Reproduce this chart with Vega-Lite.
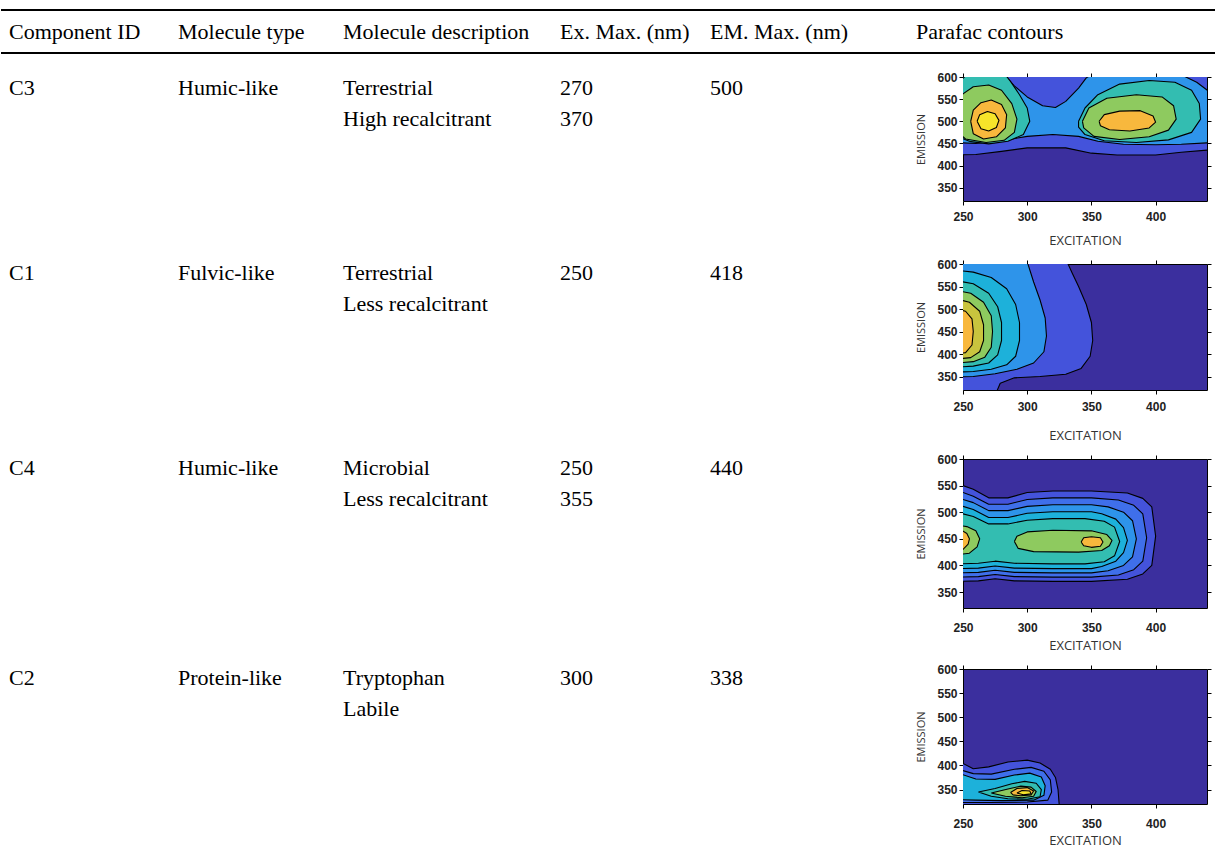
{
"$schema":"https://vega.github.io/schema/vega-lite/v6.json",
"background":"white",
"padding":0,
"spacing":12,
"config":{"view":{"stroke":null},"axis":{"domainWidth":1,"tickWidth":1,"grid":false}},
"datasets":{
"hdr":[{"col":1,"line":"header","text":"Component ID"},{"col":2,"line":"header","text":"Molecule type"},{"col":3,"line":"header","text":"Molecule description"},{"col":4,"line":"header","text":"Ex. Max. (nm)"},{"col":5,"line":"header","text":"EM. Max. (nm)"},{"col":6,"line":"header","text":"Parafac contours"}],
"rules":[{"line":"top"},{"line":"bottom"}],
"rows":[
{"row":1,"col":1,"text":"C3"},{"row":1,"col":2,"text":"Humic-like"},{"row":1,"col":3,"text":"Terrestrial\nHigh recalcitrant"},{"row":1,"col":4,"text":"270\n370"},{"row":1,"col":5,"text":"500"},
{"row":2,"col":1,"text":"C1"},{"row":2,"col":2,"text":"Fulvic-like"},{"row":2,"col":3,"text":"Terrestrial\nLess recalcitrant"},{"row":2,"col":4,"text":"250"},{"row":2,"col":5,"text":"418"},
{"row":3,"col":1,"text":"C4"},{"row":3,"col":2,"text":"Humic-like"},{"row":3,"col":3,"text":"Microbial\nLess recalcitrant"},{"row":3,"col":4,"text":"250\n355"},{"row":3,"col":5,"text":"440"},
{"row":4,"col":1,"text":"C2"},{"row":4,"col":2,"text":"Protein-like"},{"row":4,"col":3,"text":"Tryptophan\nLabile"},{"row":4,"col":4,"text":"300"},{"row":4,"col":5,"text":"338"}
],
"c3":[
{"p":"a","lv":"1","i":0,"ex":245,"em":424},{"p":"a","lv":"1","i":1,"ex":260,"em":425},{"p":"a","lv":"1","i":2,"ex":280,"em":432},{"p":"a","lv":"1","i":3,"ex":300,"em":440},{"p":"a","lv":"1","i":4,"ex":330,"em":440},{"p":"a","lv":"1","i":5,"ex":350,"em":428},{"p":"a","lv":"1","i":6,"ex":370,"em":424},{"p":"a","lv":"1","i":7,"ex":400,"em":424},{"p":"a","lv":"1","i":8,"ex":420,"em":430},{"p":"a","lv":"1","i":9,"ex":445,"em":436},{"p":"a","lv":"1","i":10,"ex":445,"em":605},{"p":"a","lv":"1","i":11,"ex":245,"em":605},{"p":"a","lv":"1","i":12,"ex":245,"em":424},
{"p":"b","lv":"3","i":0,"ex":245,"em":452},{"p":"b","lv":"3","i":1,"ex":260,"em":450},{"p":"b","lv":"3","i":2,"ex":280,"em":456},{"p":"b","lv":"3","i":3,"ex":300,"em":466},{"p":"b","lv":"3","i":4,"ex":320,"em":470},{"p":"b","lv":"3","i":5,"ex":340,"em":466},{"p":"b","lv":"3","i":6,"ex":355,"em":455},{"p":"b","lv":"3","i":7,"ex":375,"em":448},{"p":"b","lv":"3","i":8,"ex":400,"em":447},{"p":"b","lv":"3","i":9,"ex":420,"em":448},{"p":"b","lv":"3","i":10,"ex":445,"em":452},{"p":"b","lv":"3","i":11,"ex":445,"em":560},{"p":"b","lv":"3","i":12,"ex":432,"em":588},{"p":"b","lv":"3","i":13,"ex":420,"em":605},{"p":"b","lv":"3","i":14,"ex":350,"em":605},{"p":"b","lv":"3","i":15,"ex":346,"em":598},{"p":"b","lv":"3","i":16,"ex":340,"em":575},{"p":"b","lv":"3","i":17,"ex":330,"em":545},{"p":"b","lv":"3","i":18,"ex":322,"em":531},{"p":"b","lv":"3","i":19,"ex":312,"em":535},{"p":"b","lv":"3","i":20,"ex":300,"em":555},{"p":"b","lv":"3","i":21,"ex":290,"em":580},{"p":"b","lv":"3","i":22,"ex":282,"em":605},{"p":"b","lv":"3","i":23,"ex":245,"em":605},{"p":"b","lv":"3","i":24,"ex":245,"em":452},
{"p":"c","lv":"5","i":0,"ex":245,"em":466},{"p":"c","lv":"5","i":1,"ex":256,"em":454},{"p":"c","lv":"5","i":2,"ex":270,"em":449},{"p":"c","lv":"5","i":3,"ex":285,"em":455},{"p":"c","lv":"5","i":4,"ex":297,"em":470},{"p":"c","lv":"5","i":5,"ex":302,"em":500},{"p":"c","lv":"5","i":6,"ex":300,"em":530},{"p":"c","lv":"5","i":7,"ex":294,"em":560},{"p":"c","lv":"5","i":8,"ex":287,"em":590},{"p":"c","lv":"5","i":9,"ex":283,"em":605},{"p":"c","lv":"5","i":10,"ex":253,"em":605},{"p":"c","lv":"5","i":11,"ex":248,"em":592},{"p":"c","lv":"5","i":12,"ex":245,"em":585},{"p":"c","lv":"5","i":13,"ex":245,"em":466},
{"p":"d","lv":"5","i":0,"ex":340,"em":500},{"p":"d","lv":"5","i":1,"ex":345,"em":530},{"p":"d","lv":"5","i":2,"ex":355,"em":560},{"p":"d","lv":"5","i":3,"ex":372,"em":584},{"p":"d","lv":"5","i":4,"ex":395,"em":592},{"p":"d","lv":"5","i":5,"ex":415,"em":588},{"p":"d","lv":"5","i":6,"ex":428,"em":570},{"p":"d","lv":"5","i":7,"ex":434,"em":540},{"p":"d","lv":"5","i":8,"ex":435,"em":505},{"p":"d","lv":"5","i":9,"ex":428,"em":475},{"p":"d","lv":"5","i":10,"ex":410,"em":458},{"p":"d","lv":"5","i":11,"ex":385,"em":452},{"p":"d","lv":"5","i":12,"ex":360,"em":456},{"p":"d","lv":"5","i":13,"ex":345,"em":470},{"p":"d","lv":"5","i":14,"ex":340,"em":487},{"p":"d","lv":"5","i":15,"ex":340,"em":500},
{"p":"e","lv":"6","i":0,"ex":245,"em":478},{"p":"e","lv":"6","i":1,"ex":252,"em":460},{"p":"e","lv":"6","i":2,"ex":268,"em":452},{"p":"e","lv":"6","i":3,"ex":282,"em":457},{"p":"e","lv":"6","i":4,"ex":290,"em":475},{"p":"e","lv":"6","i":5,"ex":292,"em":505},{"p":"e","lv":"6","i":6,"ex":288,"em":540},{"p":"e","lv":"6","i":7,"ex":280,"em":570},{"p":"e","lv":"6","i":8,"ex":270,"em":582},{"p":"e","lv":"6","i":9,"ex":258,"em":578},{"p":"e","lv":"6","i":10,"ex":250,"em":562},{"p":"e","lv":"6","i":11,"ex":245,"em":545},{"p":"e","lv":"6","i":12,"ex":245,"em":478},
{"p":"f","lv":"6","i":0,"ex":343,"em":500},{"p":"f","lv":"6","i":1,"ex":348,"em":530},{"p":"f","lv":"6","i":2,"ex":362,"em":552},{"p":"f","lv":"6","i":3,"ex":385,"em":560},{"p":"f","lv":"6","i":4,"ex":405,"em":555},{"p":"f","lv":"6","i":5,"ex":414,"em":535},{"p":"f","lv":"6","i":6,"ex":416,"em":505},{"p":"f","lv":"6","i":7,"ex":410,"em":480},{"p":"f","lv":"6","i":8,"ex":395,"em":465},{"p":"f","lv":"6","i":9,"ex":372,"em":459},{"p":"f","lv":"6","i":10,"ex":352,"em":466},{"p":"f","lv":"6","i":11,"ex":344,"em":485},{"p":"f","lv":"6","i":12,"ex":343,"em":500},
{"p":"g","lv":"8","i":0,"ex":256,"em":500},{"p":"g","lv":"8","i":1,"ex":258,"em":525},{"p":"g","lv":"8","i":2,"ex":264,"em":542},{"p":"g","lv":"8","i":3,"ex":272,"em":548},{"p":"g","lv":"8","i":4,"ex":280,"em":538},{"p":"g","lv":"8","i":5,"ex":284,"em":515},{"p":"g","lv":"8","i":6,"ex":283,"em":485},{"p":"g","lv":"8","i":7,"ex":276,"em":465},{"p":"g","lv":"8","i":8,"ex":266,"em":460},{"p":"g","lv":"8","i":9,"ex":258,"em":472},{"p":"g","lv":"8","i":10,"ex":256,"em":500},
{"p":"h","lv":"8","i":0,"ex":356,"em":500},{"p":"h","lv":"8","i":1,"ex":360,"em":515},{"p":"h","lv":"8","i":2,"ex":372,"em":523},{"p":"h","lv":"8","i":3,"ex":388,"em":524},{"p":"h","lv":"8","i":4,"ex":398,"em":512},{"p":"h","lv":"8","i":5,"ex":400,"em":498},{"p":"h","lv":"8","i":6,"ex":395,"em":485},{"p":"h","lv":"8","i":7,"ex":380,"em":478},{"p":"h","lv":"8","i":8,"ex":364,"em":481},{"p":"h","lv":"8","i":9,"ex":357,"em":490},{"p":"h","lv":"8","i":10,"ex":356,"em":500},
{"p":"k","lv":"9","i":0,"ex":261,"em":500},{"p":"k","lv":"9","i":1,"ex":263,"em":515},{"p":"k","lv":"9","i":2,"ex":269,"em":522},{"p":"k","lv":"9","i":3,"ex":275,"em":517},{"p":"k","lv":"9","i":4,"ex":278,"em":502},{"p":"k","lv":"9","i":5,"ex":276,"em":486},{"p":"k","lv":"9","i":6,"ex":270,"em":478},{"p":"k","lv":"9","i":7,"ex":264,"em":483},{"p":"k","lv":"9","i":8,"ex":261,"em":500}
],
"c1":[
{"p":"a","lv":"1","i":0,"ex":245,"em":315},{"p":"a","lv":"1","i":1,"ex":276,"em":315},{"p":"a","lv":"1","i":2,"ex":279,"em":335},{"p":"a","lv":"1","i":3,"ex":290,"em":347},{"p":"a","lv":"1","i":4,"ex":310,"em":350},{"p":"a","lv":"1","i":5,"ex":330,"em":355},{"p":"a","lv":"1","i":6,"ex":342,"em":368},{"p":"a","lv":"1","i":7,"ex":349,"em":395},{"p":"a","lv":"1","i":8,"ex":351,"em":430},{"p":"a","lv":"1","i":9,"ex":350,"em":470},{"p":"a","lv":"1","i":10,"ex":346,"em":510},{"p":"a","lv":"1","i":11,"ex":340,"em":550},{"p":"a","lv":"1","i":12,"ex":335,"em":580},{"p":"a","lv":"1","i":13,"ex":331,"em":605},{"p":"a","lv":"1","i":14,"ex":245,"em":605},{"p":"a","lv":"1","i":15,"ex":245,"em":315},
{"p":"b","lv":"3","i":0,"ex":245,"em":349},{"p":"b","lv":"3","i":1,"ex":258,"em":350},{"p":"b","lv":"3","i":2,"ex":275,"em":356},{"p":"b","lv":"3","i":3,"ex":292,"em":366},{"p":"b","lv":"3","i":4,"ex":305,"em":380},{"p":"b","lv":"3","i":5,"ex":313,"em":405},{"p":"b","lv":"3","i":6,"ex":315,"em":440},{"p":"b","lv":"3","i":7,"ex":314,"em":480},{"p":"b","lv":"3","i":8,"ex":310,"em":520},{"p":"b","lv":"3","i":9,"ex":305,"em":560},{"p":"b","lv":"3","i":10,"ex":300,"em":605},{"p":"b","lv":"3","i":11,"ex":245,"em":605},{"p":"b","lv":"3","i":12,"ex":245,"em":349},
{"p":"c","lv":"4","i":0,"ex":245,"em":360},{"p":"c","lv":"4","i":1,"ex":258,"em":361},{"p":"c","lv":"4","i":2,"ex":272,"em":366},{"p":"c","lv":"4","i":3,"ex":284,"em":376},{"p":"c","lv":"4","i":4,"ex":291,"em":395},{"p":"c","lv":"4","i":5,"ex":294,"em":430},{"p":"c","lv":"4","i":6,"ex":294,"em":470},{"p":"c","lv":"4","i":7,"ex":291,"em":510},{"p":"c","lv":"4","i":8,"ex":284,"em":545},{"p":"c","lv":"4","i":9,"ex":272,"em":570},{"p":"c","lv":"4","i":10,"ex":258,"em":582},{"p":"c","lv":"4","i":11,"ex":245,"em":586},{"p":"c","lv":"4","i":12,"ex":245,"em":360},
{"p":"d","lv":"5","i":0,"ex":245,"em":371},{"p":"d","lv":"5","i":1,"ex":258,"em":373},{"p":"d","lv":"5","i":2,"ex":270,"em":380},{"p":"d","lv":"5","i":3,"ex":277,"em":398},{"p":"d","lv":"5","i":4,"ex":280,"em":430},{"p":"d","lv":"5","i":5,"ex":280,"em":470},{"p":"d","lv":"5","i":6,"ex":277,"em":505},{"p":"d","lv":"5","i":7,"ex":270,"em":535},{"p":"d","lv":"5","i":8,"ex":258,"em":556},{"p":"d","lv":"5","i":9,"ex":245,"em":563},{"p":"d","lv":"5","i":10,"ex":245,"em":371},
{"p":"e","lv":"6","i":0,"ex":245,"em":380},{"p":"e","lv":"6","i":1,"ex":258,"em":383},{"p":"e","lv":"6","i":2,"ex":267,"em":393},{"p":"e","lv":"6","i":3,"ex":272,"em":415},{"p":"e","lv":"6","i":4,"ex":273,"em":450},{"p":"e","lv":"6","i":5,"ex":272,"em":485},{"p":"e","lv":"6","i":6,"ex":266,"em":515},{"p":"e","lv":"6","i":7,"ex":256,"em":535},{"p":"e","lv":"6","i":8,"ex":245,"em":541},{"p":"e","lv":"6","i":9,"ex":245,"em":380},
{"p":"f","lv":"7","i":0,"ex":245,"em":389},{"p":"f","lv":"7","i":1,"ex":256,"em":392},{"p":"f","lv":"7","i":2,"ex":263,"em":405},{"p":"f","lv":"7","i":3,"ex":266,"em":430},{"p":"f","lv":"7","i":4,"ex":266,"em":465},{"p":"f","lv":"7","i":5,"ex":263,"em":495},{"p":"f","lv":"7","i":6,"ex":255,"em":515},{"p":"f","lv":"7","i":7,"ex":245,"em":522},{"p":"f","lv":"7","i":8,"ex":245,"em":389},
{"p":"g","lv":"8","i":0,"ex":245,"em":400},{"p":"g","lv":"8","i":1,"ex":252,"em":403},{"p":"g","lv":"8","i":2,"ex":257,"em":420},{"p":"g","lv":"8","i":3,"ex":258,"em":450},{"p":"g","lv":"8","i":4,"ex":257,"em":478},{"p":"g","lv":"8","i":5,"ex":252,"em":495},{"p":"g","lv":"8","i":6,"ex":245,"em":500},{"p":"g","lv":"8","i":7,"ex":245,"em":400}
],
"c4":[
{"p":"a","lv":"1","i":0,"ex":245,"em":370},{"p":"a","lv":"1","i":1,"ex":262,"em":371},{"p":"a","lv":"1","i":2,"ex":275,"em":375},{"p":"a","lv":"1","i":3,"ex":290,"em":371},{"p":"a","lv":"1","i":4,"ex":320,"em":370},{"p":"a","lv":"1","i":5,"ex":350,"em":370},{"p":"a","lv":"1","i":6,"ex":378,"em":374},{"p":"a","lv":"1","i":7,"ex":390,"em":384},{"p":"a","lv":"1","i":8,"ex":397,"em":400},{"p":"a","lv":"1","i":9,"ex":400,"em":455},{"p":"a","lv":"1","i":10,"ex":397,"em":510},{"p":"a","lv":"1","i":11,"ex":390,"em":526},{"p":"a","lv":"1","i":12,"ex":378,"em":536},{"p":"a","lv":"1","i":13,"ex":350,"em":540},{"p":"a","lv":"1","i":14,"ex":320,"em":540},{"p":"a","lv":"1","i":15,"ex":300,"em":537},{"p":"a","lv":"1","i":16,"ex":285,"em":527},{"p":"a","lv":"1","i":17,"ex":270,"em":527},{"p":"a","lv":"1","i":18,"ex":258,"em":543},{"p":"a","lv":"1","i":19,"ex":250,"em":550},{"p":"a","lv":"1","i":20,"ex":245,"em":553},{"p":"a","lv":"1","i":21,"ex":245,"em":370},
{"p":"b","lv":"2","i":0,"ex":245,"em":378},{"p":"b","lv":"2","i":1,"ex":262,"em":379},{"p":"b","lv":"2","i":2,"ex":275,"em":383},{"p":"b","lv":"2","i":3,"ex":290,"em":379},{"p":"b","lv":"2","i":4,"ex":320,"em":378},{"p":"b","lv":"2","i":5,"ex":350,"em":378},{"p":"b","lv":"2","i":6,"ex":371,"em":382},{"p":"b","lv":"2","i":7,"ex":383,"em":392},{"p":"b","lv":"2","i":8,"ex":390,"em":408},{"p":"b","lv":"2","i":9,"ex":393,"em":452},{"p":"b","lv":"2","i":10,"ex":390,"em":497},{"p":"b","lv":"2","i":11,"ex":383,"em":513},{"p":"b","lv":"2","i":12,"ex":371,"em":523},{"p":"b","lv":"2","i":13,"ex":350,"em":527},{"p":"b","lv":"2","i":14,"ex":320,"em":527},{"p":"b","lv":"2","i":15,"ex":300,"em":524},{"p":"b","lv":"2","i":16,"ex":285,"em":515},{"p":"b","lv":"2","i":17,"ex":270,"em":515},{"p":"b","lv":"2","i":18,"ex":258,"em":530},{"p":"b","lv":"2","i":19,"ex":250,"em":537},{"p":"b","lv":"2","i":20,"ex":245,"em":540},{"p":"b","lv":"2","i":21,"ex":245,"em":378},
{"p":"c","lv":"3","i":0,"ex":245,"em":386},{"p":"c","lv":"3","i":1,"ex":262,"em":387},{"p":"c","lv":"3","i":2,"ex":275,"em":391},{"p":"c","lv":"3","i":3,"ex":290,"em":387},{"p":"c","lv":"3","i":4,"ex":320,"em":386},{"p":"c","lv":"3","i":5,"ex":350,"em":386},{"p":"c","lv":"3","i":6,"ex":363,"em":390},{"p":"c","lv":"3","i":7,"ex":375,"em":400},{"p":"c","lv":"3","i":8,"ex":382,"em":416},{"p":"c","lv":"3","i":9,"ex":385,"em":450},{"p":"c","lv":"3","i":10,"ex":382,"em":484},{"p":"c","lv":"3","i":11,"ex":375,"em":500},{"p":"c","lv":"3","i":12,"ex":363,"em":510},{"p":"c","lv":"3","i":13,"ex":350,"em":514},{"p":"c","lv":"3","i":14,"ex":320,"em":514},{"p":"c","lv":"3","i":15,"ex":300,"em":511},{"p":"c","lv":"3","i":16,"ex":285,"em":503},{"p":"c","lv":"3","i":17,"ex":270,"em":503},{"p":"c","lv":"3","i":18,"ex":258,"em":518},{"p":"c","lv":"3","i":19,"ex":250,"em":524},{"p":"c","lv":"3","i":20,"ex":245,"em":527},{"p":"c","lv":"3","i":21,"ex":245,"em":386},
{"p":"d","lv":"4","i":0,"ex":245,"em":394},{"p":"d","lv":"4","i":1,"ex":262,"em":395},{"p":"d","lv":"4","i":2,"ex":275,"em":399},{"p":"d","lv":"4","i":3,"ex":290,"em":395},{"p":"d","lv":"4","i":4,"ex":320,"em":394},{"p":"d","lv":"4","i":5,"ex":350,"em":394},{"p":"d","lv":"4","i":6,"ex":358,"em":398},{"p":"d","lv":"4","i":7,"ex":369,"em":408},{"p":"d","lv":"4","i":8,"ex":375,"em":424},{"p":"d","lv":"4","i":9,"ex":378,"em":447},{"p":"d","lv":"4","i":10,"ex":375,"em":471},{"p":"d","lv":"4","i":11,"ex":369,"em":487},{"p":"d","lv":"4","i":12,"ex":358,"em":497},{"p":"d","lv":"4","i":13,"ex":350,"em":501},{"p":"d","lv":"4","i":14,"ex":320,"em":501},{"p":"d","lv":"4","i":15,"ex":300,"em":498},{"p":"d","lv":"4","i":16,"ex":285,"em":490},{"p":"d","lv":"4","i":17,"ex":270,"em":490},{"p":"d","lv":"4","i":18,"ex":258,"em":505},{"p":"d","lv":"4","i":19,"ex":250,"em":511},{"p":"d","lv":"4","i":20,"ex":245,"em":514},{"p":"d","lv":"4","i":21,"ex":245,"em":394},
{"p":"e","lv":"5","i":0,"ex":245,"em":403},{"p":"e","lv":"5","i":1,"ex":262,"em":404},{"p":"e","lv":"5","i":2,"ex":275,"em":408},{"p":"e","lv":"5","i":3,"ex":290,"em":404},{"p":"e","lv":"5","i":4,"ex":320,"em":403},{"p":"e","lv":"5","i":5,"ex":345,"em":403},{"p":"e","lv":"5","i":6,"ex":360,"em":407},{"p":"e","lv":"5","i":7,"ex":368,"em":418},{"p":"e","lv":"5","i":8,"ex":372,"em":445},{"p":"e","lv":"5","i":9,"ex":368,"em":472},{"p":"e","lv":"5","i":10,"ex":360,"em":483},{"p":"e","lv":"5","i":11,"ex":345,"em":488},{"p":"e","lv":"5","i":12,"ex":320,"em":488},{"p":"e","lv":"5","i":13,"ex":300,"em":485},{"p":"e","lv":"5","i":14,"ex":285,"em":478},{"p":"e","lv":"5","i":15,"ex":270,"em":478},{"p":"e","lv":"5","i":16,"ex":258,"em":492},{"p":"e","lv":"5","i":17,"ex":250,"em":497},{"p":"e","lv":"5","i":18,"ex":245,"em":500},{"p":"e","lv":"5","i":19,"ex":245,"em":403},
{"p":"f","lv":"6","i":0,"ex":290,"em":445},{"p":"f","lv":"6","i":1,"ex":293,"em":432},{"p":"f","lv":"6","i":2,"ex":305,"em":426},{"p":"f","lv":"6","i":3,"ex":340,"em":425},{"p":"f","lv":"6","i":4,"ex":358,"em":428},{"p":"f","lv":"6","i":5,"ex":364,"em":437},{"p":"f","lv":"6","i":6,"ex":366,"em":447},{"p":"f","lv":"6","i":7,"ex":362,"em":458},{"p":"f","lv":"6","i":8,"ex":350,"em":465},{"p":"f","lv":"6","i":9,"ex":320,"em":466},{"p":"f","lv":"6","i":10,"ex":300,"em":463},{"p":"f","lv":"6","i":11,"ex":292,"em":455},{"p":"f","lv":"6","i":12,"ex":290,"em":445},
{"p":"g","lv":"6","i":0,"ex":245,"em":420},{"p":"g","lv":"6","i":1,"ex":255,"em":423},{"p":"g","lv":"6","i":2,"ex":261,"em":435},{"p":"g","lv":"6","i":3,"ex":263,"em":450},{"p":"g","lv":"6","i":4,"ex":260,"em":465},{"p":"g","lv":"6","i":5,"ex":253,"em":473},{"p":"g","lv":"6","i":6,"ex":245,"em":476},{"p":"g","lv":"6","i":7,"ex":245,"em":420},
{"p":"h","lv":"8","i":0,"ex":342,"em":444},{"p":"h","lv":"8","i":1,"ex":344,"em":437},{"p":"h","lv":"8","i":2,"ex":350,"em":434},{"p":"h","lv":"8","i":3,"ex":357,"em":436},{"p":"h","lv":"8","i":4,"ex":359,"em":444},{"p":"h","lv":"8","i":5,"ex":357,"em":452},{"p":"h","lv":"8","i":6,"ex":350,"em":454},{"p":"h","lv":"8","i":7,"ex":344,"em":452},{"p":"h","lv":"8","i":8,"ex":342,"em":444},
{"p":"k","lv":"8","i":0,"ex":245,"em":428},{"p":"k","lv":"8","i":1,"ex":250,"em":430},{"p":"k","lv":"8","i":2,"ex":254,"em":440},{"p":"k","lv":"8","i":3,"ex":255,"em":450},{"p":"k","lv":"8","i":4,"ex":253,"em":460},{"p":"k","lv":"8","i":5,"ex":249,"em":466},{"p":"k","lv":"8","i":6,"ex":245,"em":467},{"p":"k","lv":"8","i":7,"ex":245,"em":428}
],
"c2":[
{"p":"a","lv":"1","i":0,"ex":245,"em":406},{"p":"a","lv":"1","i":1,"ex":250,"em":404},{"p":"a","lv":"1","i":2,"ex":258,"em":393},{"p":"a","lv":"1","i":3,"ex":270,"em":397},{"p":"a","lv":"1","i":4,"ex":285,"em":407},{"p":"a","lv":"1","i":5,"ex":300,"em":411},{"p":"a","lv":"1","i":6,"ex":310,"em":405},{"p":"a","lv":"1","i":7,"ex":318,"em":392},{"p":"a","lv":"1","i":8,"ex":322,"em":375},{"p":"a","lv":"1","i":9,"ex":324,"em":350},{"p":"a","lv":"1","i":10,"ex":325,"em":315},{"p":"a","lv":"1","i":11,"ex":245,"em":315},{"p":"a","lv":"1","i":12,"ex":245,"em":406},
{"p":"b","lv":"2","i":0,"ex":245,"em":393},{"p":"b","lv":"2","i":1,"ex":258,"em":383},{"p":"b","lv":"2","i":2,"ex":272,"em":382},{"p":"b","lv":"2","i":3,"ex":290,"em":392},{"p":"b","lv":"2","i":4,"ex":303,"em":396},{"p":"b","lv":"2","i":5,"ex":313,"em":388},{"p":"b","lv":"2","i":6,"ex":318,"em":370},{"p":"b","lv":"2","i":7,"ex":319,"em":345},{"p":"b","lv":"2","i":8,"ex":316,"em":328},{"p":"b","lv":"2","i":9,"ex":300,"em":324},{"p":"b","lv":"2","i":10,"ex":270,"em":323},{"p":"b","lv":"2","i":11,"ex":245,"em":323},{"p":"b","lv":"2","i":12,"ex":245,"em":393},
{"p":"c","lv":"4","i":0,"ex":245,"em":385},{"p":"c","lv":"4","i":1,"ex":260,"em":372},{"p":"c","lv":"4","i":2,"ex":275,"em":371},{"p":"c","lv":"4","i":3,"ex":290,"em":380},{"p":"c","lv":"4","i":4,"ex":302,"em":384},{"p":"c","lv":"4","i":5,"ex":311,"em":376},{"p":"c","lv":"4","i":6,"ex":314,"em":358},{"p":"c","lv":"4","i":7,"ex":313,"em":338},{"p":"c","lv":"4","i":8,"ex":305,"em":328},{"p":"c","lv":"4","i":9,"ex":280,"em":327},{"p":"c","lv":"4","i":10,"ex":260,"em":328},{"p":"c","lv":"4","i":11,"ex":245,"em":329},{"p":"c","lv":"4","i":12,"ex":245,"em":385},
{"p":"d","lv":"5","i":0,"ex":262,"em":345},{"p":"d","lv":"5","i":1,"ex":275,"em":352},{"p":"d","lv":"5","i":2,"ex":288,"em":362},{"p":"d","lv":"5","i":3,"ex":298,"em":367},{"p":"d","lv":"5","i":4,"ex":307,"em":363},{"p":"d","lv":"5","i":5,"ex":311,"em":350},{"p":"d","lv":"5","i":6,"ex":310,"em":335},{"p":"d","lv":"5","i":7,"ex":300,"em":330},{"p":"d","lv":"5","i":8,"ex":285,"em":331},{"p":"d","lv":"5","i":9,"ex":272,"em":336},{"p":"d","lv":"5","i":10,"ex":262,"em":345},
{"p":"e","lv":"6","i":0,"ex":272,"em":343},{"p":"e","lv":"6","i":1,"ex":285,"em":351},{"p":"e","lv":"6","i":2,"ex":295,"em":357},{"p":"e","lv":"6","i":3,"ex":303,"em":355},{"p":"e","lv":"6","i":4,"ex":307,"em":346},{"p":"e","lv":"6","i":5,"ex":305,"em":336},{"p":"e","lv":"6","i":6,"ex":296,"em":333},{"p":"e","lv":"6","i":7,"ex":283,"em":336},{"p":"e","lv":"6","i":8,"ex":272,"em":343},
{"p":"f","lv":"8","i":0,"ex":287,"em":344},{"p":"f","lv":"8","i":1,"ex":292,"em":352},{"p":"f","lv":"8","i":2,"ex":300,"em":354},{"p":"f","lv":"8","i":3,"ex":305,"em":347},{"p":"f","lv":"8","i":4,"ex":303,"em":339},{"p":"f","lv":"8","i":5,"ex":295,"em":337},{"p":"f","lv":"8","i":6,"ex":289,"em":339},{"p":"f","lv":"8","i":7,"ex":287,"em":344},
{"p":"g","lv":"9","i":0,"ex":292,"em":343},{"p":"g","lv":"9","i":1,"ex":296,"em":348},{"p":"g","lv":"9","i":2,"ex":302,"em":347},{"p":"g","lv":"9","i":3,"ex":303,"em":341},{"p":"g","lv":"9","i":4,"ex":297,"em":339},{"p":"g","lv":"9","i":5,"ex":292,"em":343}
]
},
"vconcat":[
{
"width":1215,"height":59,
"layer":[
{"data":{"name":"rules"},"mark":{"type":"rule","strokeWidth":2,"color":"#000000"},
"encoding":{"y":{"field":"line","type":"nominal","scale":{"type":"point","domain":["top","header","bottom"],"range":[10,53],"padding":0},"axis":null}}},
{"data":{"name":"hdr"},"mark":{"type":"text","align":"left","baseline":"middle","font":"Liberation Serif","fontSize":22,"color":"#000000"},
"encoding":{"x":{"field":"col","type":"quantitative","scale":{"domain":[1,2,3,4,5,6],"range":[8,177,342,559,709,915],"zero":false,"nice":false},"axis":null},
"y":{"field":"line","type":"nominal","scale":{"type":"point","domain":["top","header","bottom"],"range":[10,53],"padding":0},"axis":null},
"text":{"field":"text"}}}
]
},
{
"spacing":0,
"hconcat":[
{
"width":914,"height":700,
"data":{"name":"rows"},
"mark":{"type":"text","align":"left","baseline":"top","font":"Liberation Serif","fontSize":22,"lineHeight":31,"lineBreak":"\n","color":"#000000"},
"encoding":{"x":{"field":"col","type":"quantitative","scale":{"domain":[1,2,3,4,5],"range":[8,177,342,559,709],"zero":false,"nice":false},"axis":null},
"y":{"field":"row","type":"quantitative","scale":{"domain":[1,2,3,4],"range":[1.4,186.4,381.4,591.4],"zero":false,"nice":false},"axis":null},
"text":{"field":"text"}}
},
{
"spacing":11,
"vconcat":[
{
"width":244,"height":124,"view":{"fill":"#3B2F9E","stroke":null},
"layer":[
{"data":{"name":"c3"},"mark":{"type":"line","filled":true,"stroke":"#000000","strokeWidth":1.1,"clip":true,"strokeJoin":"round"},
"encoding":{
"x":{"field":"ex","type":"quantitative","scale":{"domain":[250,440],"nice":false,"zero":false},"axis":{"orient":"bottom","values":[250,300,350,400],"title":"EXCITATION","titleFont":"Open Sans","titleFontSize":13,"titleFontWeight":"normal","titleColor":"#333333","titlePadding":12,"labelFont":"Liberation Sans","labelFontSize":12,"labelFontWeight":"bold","labelColor":"#222222","labelPadding":6,"labelFlush":false,"tickColor":"#000000","tickSize":4,"domainColor":"#000000"}},
"y":{"field":"em","type":"quantitative","scale":{"domain":[320,600],"nice":false,"zero":false},"axis":{"orient":"left","values":[350,400,450,500,550,600],"title":"EMISSION","titleFont":"Open Sans","titleFontSize":11,"titleFontWeight":"normal","titleColor":"#333333","titlePadding":10,"labelFont":"Liberation Sans","labelFontSize":12,"labelFontWeight":"bold","labelColor":"#222222","labelPadding":2,"labelFlush":false,"tickColor":"#000000","tickSize":4,"domainColor":"#000000"}},
"detail":{"field":"p"},
"fill":{"field":"lv","type":"nominal","scale":{"domain":["1","2","3","4","5","6","7","8","9"],"range":["#4453DB","#3F6FEA","#2E94EA","#1DB1DA","#33BDB1","#8ECA5F","#C9C43E","#F8B83D","#F7E52A"]},"legend":null},
"order":{"field":"i","type":"quantitative"}}},
{"data":{"values":[{"ex":250,"em":600}]},"mark":{"type":"point","opacity":0},
"encoding":{
"x":{"field":"ex","type":"quantitative","scale":{"domain":[250,440],"nice":false,"zero":false},"axis":{"orient":"top","values":[250,300,350,400],"labels":false,"title":null,"tickColor":"#000000","tickSize":4,"domainColor":"#000000"}},
"y":{"field":"em","type":"quantitative","scale":{"domain":[320,600],"nice":false,"zero":false},"axis":{"orient":"right","values":[350,400,450,500,550,600],"labels":false,"title":null,"tickColor":"#000000","tickSize":4,"domainColor":"#000000"}}}}
],
"resolve":{"axis":{"x":"independent","y":"independent"}}
},
{
"width":244,"height":126,"view":{"fill":"#3B2F9E","stroke":null},
"layer":[
{"data":{"name":"c1"},"mark":{"type":"line","filled":true,"stroke":"#000000","strokeWidth":1.1,"clip":true,"strokeJoin":"round"},
"encoding":{
"x":{"field":"ex","type":"quantitative","scale":{"domain":[250,440],"nice":false,"zero":false},"axis":{"orient":"bottom","values":[250,300,350,400],"title":"EXCITATION","titleFont":"Open Sans","titleFontSize":13,"titleFontWeight":"normal","titleColor":"#333333","titlePadding":17,"labelFont":"Liberation Sans","labelFontSize":12,"labelFontWeight":"bold","labelColor":"#222222","labelPadding":7,"labelFlush":false,"tickColor":"#000000","tickSize":4,"domainColor":"#000000"}},
"y":{"field":"em","type":"quantitative","scale":{"domain":[320,600],"nice":false,"zero":false},"axis":{"orient":"left","values":[350,400,450,500,550,600],"title":"EMISSION","titleFont":"Open Sans","titleFontSize":11,"titleFontWeight":"normal","titleColor":"#333333","titlePadding":10,"labelFont":"Liberation Sans","labelFontSize":12,"labelFontWeight":"bold","labelColor":"#222222","labelPadding":2,"labelFlush":false,"tickColor":"#000000","tickSize":4,"domainColor":"#000000"}},
"detail":{"field":"p"},
"fill":{"field":"lv","type":"nominal","scale":{"domain":["1","2","3","4","5","6","7","8","9"],"range":["#4453DB","#3F6FEA","#2E94EA","#1DB1DA","#33BDB1","#8ECA5F","#C9C43E","#F8B83D","#F7E52A"]},"legend":null},
"order":{"field":"i","type":"quantitative"}}},
{"data":{"values":[{"ex":250,"em":600}]},"mark":{"type":"point","opacity":0},
"encoding":{
"x":{"field":"ex","type":"quantitative","scale":{"domain":[250,440],"nice":false,"zero":false},"axis":{"orient":"top","values":[250,300,350,400],"labels":false,"title":null,"tickColor":"#000000","tickSize":4,"domainColor":"#000000"}},
"y":{"field":"em","type":"quantitative","scale":{"domain":[320,600],"nice":false,"zero":false},"axis":{"orient":"right","values":[350,400,450,500,550,600],"labels":false,"title":null,"tickColor":"#000000","tickSize":4,"domainColor":"#000000"}}}}
],
"resolve":{"axis":{"x":"independent","y":"independent"}}
},
{
"width":244,"height":149,"view":{"fill":"#3B2F9E","stroke":null},
"layer":[
{"data":{"name":"c4"},"mark":{"type":"line","filled":true,"stroke":"#000000","strokeWidth":1.1,"clip":true,"strokeJoin":"round"},
"encoding":{
"x":{"field":"ex","type":"quantitative","scale":{"domain":[250,440],"nice":false,"zero":false},"axis":{"orient":"bottom","values":[250,300,350,400],"title":"EXCITATION","titleFont":"Open Sans","titleFontSize":13,"titleFontWeight":"normal","titleColor":"#333333","titlePadding":6,"labelFont":"Liberation Sans","labelFontSize":12,"labelFontWeight":"bold","labelColor":"#222222","labelPadding":10,"labelFlush":false,"tickColor":"#000000","tickSize":4,"domainColor":"#000000"}},
"y":{"field":"em","type":"quantitative","scale":{"domain":[320,600],"nice":false,"zero":false},"axis":{"orient":"left","values":[350,400,450,500,550,600],"title":"EMISSION","titleFont":"Open Sans","titleFontSize":11,"titleFontWeight":"normal","titleColor":"#333333","titlePadding":10,"labelFont":"Liberation Sans","labelFontSize":12,"labelFontWeight":"bold","labelColor":"#222222","labelPadding":2,"labelFlush":false,"tickColor":"#000000","tickSize":4,"domainColor":"#000000"}},
"detail":{"field":"p"},
"fill":{"field":"lv","type":"nominal","scale":{"domain":["1","2","3","4","5","6","7","8","9"],"range":["#4453DB","#3F6FEA","#2E94EA","#1DB1DA","#33BDB1","#8ECA5F","#C9C43E","#F8B83D","#F7E52A"]},"legend":null},
"order":{"field":"i","type":"quantitative"}}},
{"data":{"values":[{"ex":250,"em":600}]},"mark":{"type":"point","opacity":0},
"encoding":{
"x":{"field":"ex","type":"quantitative","scale":{"domain":[250,440],"nice":false,"zero":false},"axis":{"orient":"top","values":[250,300,350,400],"labels":false,"title":null,"tickColor":"#000000","tickSize":4,"domainColor":"#000000"}},
"y":{"field":"em","type":"quantitative","scale":{"domain":[320,600],"nice":false,"zero":false},"axis":{"orient":"right","values":[350,400,450,500,550,600],"labels":false,"title":null,"tickColor":"#000000","tickSize":4,"domainColor":"#000000"}}}}
],
"resolve":{"axis":{"x":"independent","y":"independent"}}
},
{
"width":244,"height":135,"view":{"fill":"#3B2F9E","stroke":null},
"layer":[
{"data":{"name":"c2"},"mark":{"type":"line","filled":true,"stroke":"#000000","strokeWidth":1.1,"clip":true,"strokeJoin":"round"},
"encoding":{
"x":{"field":"ex","type":"quantitative","scale":{"domain":[250,440],"nice":false,"zero":false},"axis":{"orient":"bottom","values":[250,300,350,400],"title":"EXCITATION","titleFont":"Open Sans","titleFontSize":13,"titleFontWeight":"normal","titleColor":"#333333","titlePadding":5,"labelFont":"Liberation Sans","labelFontSize":12,"labelFontWeight":"bold","labelColor":"#222222","labelPadding":10,"labelFlush":false,"tickColor":"#000000","tickSize":4,"domainColor":"#000000"}},
"y":{"field":"em","type":"quantitative","scale":{"domain":[320,600],"nice":false,"zero":false},"axis":{"orient":"left","values":[350,400,450,500,550,600],"title":"EMISSION","titleFont":"Open Sans","titleFontSize":11,"titleFontWeight":"normal","titleColor":"#333333","titlePadding":10,"labelFont":"Liberation Sans","labelFontSize":12,"labelFontWeight":"bold","labelColor":"#222222","labelPadding":2,"labelFlush":false,"tickColor":"#000000","tickSize":4,"domainColor":"#000000"}},
"detail":{"field":"p"},
"fill":{"field":"lv","type":"nominal","scale":{"domain":["1","2","3","4","5","6","7","8","9"],"range":["#4453DB","#3F6FEA","#2E94EA","#1DB1DA","#33BDB1","#8ECA5F","#C9C43E","#F8B83D","#F7E52A"]},"legend":null},
"order":{"field":"i","type":"quantitative"}}},
{"data":{"values":[{"ex":250,"em":600}]},"mark":{"type":"point","opacity":0},
"encoding":{
"x":{"field":"ex","type":"quantitative","scale":{"domain":[250,440],"nice":false,"zero":false},"axis":{"orient":"top","values":[250,300,350,400],"labels":false,"title":null,"tickColor":"#000000","tickSize":4,"domainColor":"#000000"}},
"y":{"field":"em","type":"quantitative","scale":{"domain":[320,600],"nice":false,"zero":false},"axis":{"orient":"right","values":[350,400,450,500,550,600],"labels":false,"title":null,"tickColor":"#000000","tickSize":4,"domainColor":"#000000"}}}}
],
"resolve":{"axis":{"x":"independent","y":"independent"}}
}
]
}
]
}
]
}
